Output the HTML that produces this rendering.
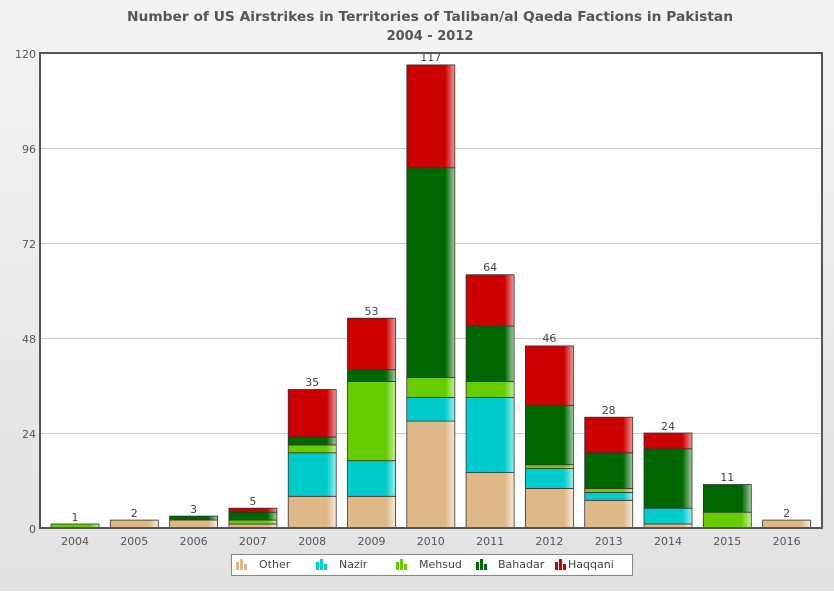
<!DOCTYPE html>
<html><head><meta charset="utf-8"><style>
html,body{margin:0;padding:0;}
body{width:834px;height:591px;overflow:hidden;font-family:"DejaVu Sans",sans-serif;}
</style></head><body>
<svg width="834" height="591" viewBox="0 0 834 591" xmlns="http://www.w3.org/2000/svg" font-family="DejaVu Sans, Liberation Sans, sans-serif">
<defs>
<linearGradient id="bg" x1="0" y1="0" x2="0" y2="1"><stop offset="0" stop-color="#f3f3f3"/><stop offset="1" stop-color="#e2e2e2"/></linearGradient>
<linearGradient id="gO" x1="0" x2="1"><stop offset="0" stop-color="#deb887"/><stop offset="0.8" stop-color="#deb887"/><stop offset="1" stop-color="#f6ead8"/></linearGradient>
<linearGradient id="gN" x1="0" x2="1"><stop offset="0" stop-color="#00cccc"/><stop offset="0.8" stop-color="#00cccc"/><stop offset="1" stop-color="#9aeeee"/></linearGradient>
<linearGradient id="gM" x1="0" x2="1"><stop offset="0" stop-color="#66cc00"/><stop offset="0.8" stop-color="#66cc00"/><stop offset="1" stop-color="#c4ee99"/></linearGradient>
<linearGradient id="gB" x1="0" x2="1"><stop offset="0" stop-color="#006600"/><stop offset="0.8" stop-color="#006600"/><stop offset="1" stop-color="#a3cca3"/></linearGradient>
<linearGradient id="gH" x1="0" x2="1"><stop offset="0" stop-color="#cc0000"/><stop offset="0.8" stop-color="#cc0000"/><stop offset="1" stop-color="#f09999"/></linearGradient>
</defs>
<rect width="834" height="591" fill="url(#bg)"/>
<text x="127" y="21" font-size="13" font-weight="bold" fill="#555" textLength="606" lengthAdjust="spacingAndGlyphs">Number of US Airstrikes in Territories of Taliban/al Qaeda Factions in Pakistan</text>
<text x="430" y="40" text-anchor="middle" font-size="13" font-weight="bold" fill="#555">2004 - 2012</text>
<rect x="40" y="53" width="782" height="475" fill="#fff"/>
<g stroke="#c8c8c8" stroke-width="1">
<line x1="40" x2="822" y1="148.5" y2="148.5"/><line x1="40" x2="822" y1="243.5" y2="243.5"/>
<line x1="40" x2="822" y1="338.5" y2="338.5"/><line x1="40" x2="822" y1="433.5" y2="433.5"/>
</g>
<g font-size="11" fill="#555" text-anchor="end">
<text x="36" y="58">120</text><text x="36" y="153">96</text><text x="36" y="248">72</text><text x="36" y="343">48</text><text x="36" y="438">24</text><text x="36" y="533">0</text>
</g>
<g stroke="#333" stroke-width="0.8">
<rect x="51" y="524" width="48" height="4" fill="url(#gM)"/>
<rect x="110.3" y="520.1" width="48" height="7.9" fill="url(#gO)"/>
<rect x="169.6" y="520.1" width="48" height="7.9" fill="url(#gO)"/>
<rect x="169.6" y="516.1" width="48" height="4" fill="url(#gB)"/>
<rect x="228.9" y="524" width="48" height="4" fill="url(#gO)"/>
<rect x="228.9" y="520.1" width="48" height="3.9" fill="url(#gM)"/>
<rect x="228.9" y="512.2" width="48" height="7.9" fill="url(#gB)"/>
<rect x="228.9" y="508.2" width="48" height="4" fill="url(#gH)"/>
<rect x="288.2" y="496.3" width="48" height="31.7" fill="url(#gO)"/>
<rect x="288.2" y="452.8" width="48" height="43.5" fill="url(#gN)"/>
<rect x="288.2" y="444.9" width="48" height="7.9" fill="url(#gM)"/>
<rect x="288.2" y="437" width="48" height="7.9" fill="url(#gB)"/>
<rect x="288.2" y="389.5" width="48" height="47.5" fill="url(#gH)"/>
<rect x="347.5" y="496.3" width="48" height="31.7" fill="url(#gO)"/>
<rect x="347.5" y="460.7" width="48" height="35.6" fill="url(#gN)"/>
<rect x="347.5" y="381.5" width="48" height="79.2" fill="url(#gM)"/>
<rect x="347.5" y="369.7" width="48" height="11.8" fill="url(#gB)"/>
<rect x="347.5" y="318.2" width="48" height="51.5" fill="url(#gH)"/>
<rect x="406.8" y="421.1" width="48" height="106.9" fill="url(#gO)"/>
<rect x="406.8" y="397.4" width="48" height="23.7" fill="url(#gN)"/>
<rect x="406.8" y="377.6" width="48" height="19.8" fill="url(#gM)"/>
<rect x="406.8" y="167.8" width="48" height="209.8" fill="url(#gB)"/>
<rect x="406.8" y="64.9" width="48" height="102.9" fill="url(#gH)"/>
<rect x="466.1" y="472.6" width="48" height="55.4" fill="url(#gO)"/>
<rect x="466.1" y="397.4" width="48" height="75.2" fill="url(#gN)"/>
<rect x="466.1" y="381.5" width="48" height="15.9" fill="url(#gM)"/>
<rect x="466.1" y="326.1" width="48" height="55.4" fill="url(#gB)"/>
<rect x="466.1" y="274.7" width="48" height="51.4" fill="url(#gH)"/>
<rect x="525.4" y="488.4" width="48" height="39.6" fill="url(#gO)"/>
<rect x="525.4" y="468.6" width="48" height="19.8" fill="url(#gN)"/>
<rect x="525.4" y="464.7" width="48" height="3.9" fill="url(#gM)"/>
<rect x="525.4" y="405.3" width="48" height="59.4" fill="url(#gB)"/>
<rect x="525.4" y="345.9" width="48" height="59.4" fill="url(#gH)"/>
<rect x="584.7" y="500.3" width="48" height="27.7" fill="url(#gO)"/>
<rect x="584.7" y="492.4" width="48" height="7.9" fill="url(#gN)"/>
<rect x="584.7" y="488.4" width="48" height="4" fill="url(#gM)"/>
<rect x="584.7" y="452.8" width="48" height="35.6" fill="url(#gB)"/>
<rect x="584.7" y="417.2" width="48" height="35.6" fill="url(#gH)"/>
<rect x="644" y="524" width="48" height="4" fill="url(#gO)"/>
<rect x="644" y="508.2" width="48" height="15.8" fill="url(#gN)"/>
<rect x="644" y="448.8" width="48" height="59.4" fill="url(#gB)"/>
<rect x="644" y="433" width="48" height="15.8" fill="url(#gH)"/>
<rect x="703.3" y="512.2" width="48" height="15.8" fill="url(#gM)"/>
<rect x="703.3" y="484.5" width="48" height="27.7" fill="url(#gB)"/>
<rect x="762.6" y="520.1" width="48" height="7.9" fill="url(#gO)"/>
</g>
<g font-size="11" fill="#444" text-anchor="middle">
<text x="75" y="521">1</text><text x="134.3" y="517">2</text><text x="193.6" y="513">3</text><text x="252.9" y="505">5</text>
<text x="312.2" y="386">35</text><text x="371.5" y="315">53</text><text x="430.8" y="61">117</text><text x="490.1" y="271">64</text>
<text x="549.4" y="342">46</text><text x="608.7" y="414">28</text><text x="668" y="430">24</text><text x="727.3" y="481">11</text><text x="786.6" y="517">2</text>
</g>
<rect x="40" y="53" width="782" height="475" fill="none" stroke="#555" stroke-width="2"/>
<g font-size="11" fill="#555" text-anchor="middle">
<text x="75" y="545">2004</text><text x="134.3" y="545">2005</text><text x="193.6" y="545">2006</text><text x="252.9" y="545">2007</text>
<text x="312.2" y="545">2008</text><text x="371.5" y="545">2009</text><text x="430.8" y="545">2010</text><text x="490.1" y="545">2011</text>
<text x="549.4" y="545">2012</text><text x="608.7" y="545">2013</text><text x="668" y="545">2014</text><text x="727.3" y="545">2015</text><text x="786.6" y="545">2016</text>
</g>
<rect x="231.5" y="554.5" width="401" height="21" fill="#fff" stroke="#888"/>
<g>
<rect x="236" y="562" width="3" height="8" fill="#deb887"/><rect x="240" y="559" width="3" height="11" fill="#deb887"/><rect x="244" y="564" width="3" height="6" fill="#deb887"/>
<rect x="316" y="562" width="3" height="8" fill="#00cccc"/><rect x="320" y="559" width="3" height="11" fill="#00cccc"/><rect x="324" y="564" width="3" height="6" fill="#00cccc"/>
<rect x="396" y="562" width="3" height="8" fill="#66cc00"/><rect x="400" y="559" width="3" height="11" fill="#66cc00"/><rect x="404" y="564" width="3" height="6" fill="#66cc00"/>
<rect x="476" y="562" width="3" height="8" fill="#006600"/><rect x="480" y="559" width="3" height="11" fill="#006600"/><rect x="484" y="564" width="3" height="6" fill="#006600"/>
<rect x="555" y="562" width="3" height="8" fill="#cc0000"/><rect x="559" y="559" width="3" height="11" fill="#cc0000"/><rect x="563" y="564" width="3" height="6" fill="#cc0000"/>
</g>
<g font-size="11" fill="#444">
<text x="259" y="568">Other</text><text x="339" y="568">Nazir</text><text x="419" y="568">Mehsud</text><text x="498" y="568">Bahadar</text><text x="568" y="568">Haqqani</text>
</g>
</svg>
</body></html>
